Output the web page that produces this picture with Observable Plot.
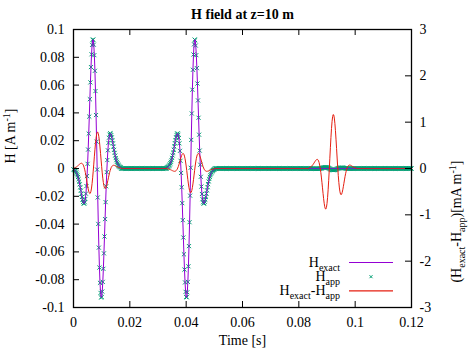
<!DOCTYPE html>
<html>
<head>
<meta charset="utf-8">
<script src="https://cdn.jsdelivr.net/npm/d3@7"></script>
<script src="https://cdn.jsdelivr.net/npm/@observablehq/plot@0.6"></script>
<style>
  html, body { margin: 0; padding: 0; background: #fff; }
  #chart svg { display: block; font-family: 'Liberation Serif', 'Times New Roman', serif; }
  #chart svg text { font-family: 'Liberation Serif', 'Times New Roman', serif; }
</style>
</head>
<body>
<div id="chart"></div>
<script>
// Sampling of the time series [s]
const dt = 0.0002;
const tEnd = 0.12;

// H field pulses [A/m], one value every dt, starting at the given time
const hPulse1Start = 0;
const hPulse1 = [-0.00061,-0.00086,-0.00117,-0.0016,-0.00214,-0.00283,-0.00372,-0.00478,-0.00606,-0.00758,-0.00934,-0.01131,-0.01348,-0.01578,-0.01812,-0.02039,-0.02244,-0.02406,-0.02506,-0.02521,-0.02426,-0.022,-0.01824,-0.01285,-0.00576,0.00297,0.01319,0.02462,0.03683,0.04931,0.06142,0.07247,0.08176,0.08861,0.0924,0.09269,0.08918,0.08179,0.07068,0.05625,0.03911,0.02005,0,-0.02005,-0.03911,-0.05625,-0.07068,-0.08179,-0.08918,-0.09269,-0.0924,-0.08861,-0.08176,-0.07247,-0.06142,-0.04931,-0.03683,-0.02462,-0.01319,-0.00297,0.00576,0.01285,0.01824,0.022,0.02426,0.02521,0.02506,0.02406,0.02244,0.02039,0.01812,0.01578,0.01348,0.01131,0.00934,0.00758,0.00606,0.00478,0.00372,0.00283,0.00214,0.0016,0.00117,0.00086,0.00061];
const hPulse2Start = 0.0332;
const hPulse2 = [0.00061,0.00086,0.00117,0.0016,0.00214,0.00283,0.00372,0.00478,0.00606,0.00758,0.00934,0.01131,0.01348,0.01578,0.01812,0.02039,0.02244,0.02406,0.02506,0.02521,0.02426,0.022,0.01824,0.01285,0.00576,-0.00297,-0.01319,-0.02462,-0.03683,-0.04931,-0.06142,-0.07247,-0.08176,-0.08861,-0.0924,-0.09269,-0.08918,-0.08179,-0.07068,-0.05625,-0.03911,-0.02005,0,0.02005,0.03911,0.05625,0.07068,0.08179,0.08918,0.09269,0.0924,0.08861,0.08176,0.07247,0.06142,0.04931,0.03683,0.02462,0.01319,0.00297,-0.00576,-0.01285,-0.01824,-0.022,-0.02426,-0.02521,-0.02506,-0.02406,-0.02244,-0.02039,-0.01812,-0.01578,-0.01348,-0.01131,-0.00934,-0.00758,-0.00606,-0.00478,-0.00372,-0.00283,-0.00214,-0.0016,-0.00117,-0.00086,-0.00061];

// Difference H_exact - H_app [mA/m], same sampling
const errPulse1Start = 0;
const errPulse1 = [0.00882,0.01187,0.01573,0.02061,0.02648,0.03352,0.04216,0.05151,0.06193,0.07303,0.08431,0.09496,0.10418,0.11077,0.11344,0.11074,0.1012,0.08339,0.05618,0.0188,-0.02891,-0.0864,-0.15223,-0.22396,-0.29827,-0.37089,-0.4369,-0.49096,-0.52781,-0.54253,-0.53117,-0.49115,-0.42166,-0.32393,-0.20136,-0.0594,0.09467,0.25222,0.40391,0.54036,0.65297,0.73455,0.78,0.78667,0.75463,0.68658,0.58763,0.46482,0.32647,0.18154,0.03884,-0.09361,-0.20914,-0.30277,-0.37153,-0.41437,-0.43207,-0.42698,-0.4026,-0.36317,-0.31325,-0.25736,-0.19965,-0.1436,-0.09197,-0.04672,-0.00896,0.02085,0.04288,0.05774,0.06634,0.06975,0.06914,0.06556,0.06003,0.05333,0.04617,0.03909,0.03248,0.02616,0.02092,0.01645,0.01267,0.00965,0.00722];
const errPulse2Start = 0.0332;
const errPulse2 = [-0.0054,-0.00724,-0.00956,-0.01247,-0.01595,-0.02008,-0.02512,-0.03049,-0.03638,-0.04253,-0.04858,-0.05402,-0.05833,-0.06075,-0.0605,-0.0567,-0.04849,-0.03508,-0.01589,0.00939,0.04068,0.0774,0.11842,0.16198,0.2058,0.24704,0.28252,0.30892,0.32304,0.32203,0.30379,0.26718,0.21229,0.14052,0.05469,-0.04111,-0.14173,-0.24131,-0.33369,-0.41291,-0.47371,-0.51195,-0.525,-0.51195,-0.47371,-0.41291,-0.33369,-0.24131,-0.14173,-0.04111,0.05469,0.14052,0.21229,0.26718,0.30379,0.32203,0.32304,0.30892,0.28252,0.24704,0.2058,0.16198,0.11842,0.0774,0.04068,0.00939,-0.01589,-0.03508,-0.04849,-0.0567,-0.0605,-0.06075,-0.05833,-0.05402,-0.04858,-0.04253,-0.03638,-0.03049,-0.02512,-0.02008,-0.01595,-0.01247,-0.00956,-0.00724,-0.0054];
const errPulse3Start = 0.0836;
const errPulse3 = [0.01378,0.0186,0.02473,0.03251,0.04193,0.05331,0.06735,0.08272,0.10002,0.11876,0.13818,0.15711,0.17432,0.18801,0.19617,0.19649,0.18657,0.16403,0.12682,0.07348,0.00328,-0.08337,-0.18474,-0.2976,-0.41728,-0.53757,-0.65112,-0.74976,-0.82514,-0.86928,-0.87531,-0.83828,-0.75574,-0.62817,-0.45931,-0.25619,-0.02868,0.21097,0.44907,0.67144,0.86461,1.01681,1.119,1.16557,1.15475,1.08874,0.97341,0.81769,0.63286,0.43141,0.22617,0.02915,-0.1492,-0.30068,-0.41971,-0.5035,-0.55192,-0.56714,-0.55324,-0.51553,-0.46002,-0.39292,-0.32008,-0.24659,-0.1767,-0.11352,-0.05908,-0.01447,0.02013,0.04521,0.06173,0.07097,0.07432,0.07319,0.0689,0.06252,0.05506,0.04726,0.03973,0.03231,0.02607,0.02065,0.01601,0.01226,0.00922];

// Axis ticks and texts
const xTicks = [0, 0.02, 0.04, 0.06, 0.08, 0.1, 0.12];
const yTicks = [-0.1, -0.08, -0.06, -0.04, -0.02, 0, 0.02, 0.04, 0.06, 0.08, 0.1];
const y2Ticks = [-3, -2, -1, 0, 1, 2, 3];
const titleText = "H field at z=10 m";
const xLabel = "Time [s]";
const yLabel = "H [A m^{-1}]";
const y2Label = "(H_{exact}-H_{app})[mA m^{-1}]";
const legendLabels = ["H_{exact}", "H_{app}", "H_{exact}-H_{app}"];

// mA/m on the right axis per A/m on the left axis (3 mA/m <-> 0.1 A/m)
const errPerY = 30;

// Assemble the sampled table
function valueAt(pulses, i) {
  for (const p of pulses) {
    const j = i - Math.round(p.start / dt);
    if (j >= 0 && j < p.values.length) return p.values[j];
  }
  return 0;
}
const hPulses = [{start: hPulse1Start, values: hPulse1}, {start: hPulse2Start, values: hPulse2}];
const errPulses = [
  {start: errPulse1Start, values: errPulse1},
  {start: errPulse2Start, values: errPulse2},
  {start: errPulse3Start, values: errPulse3}
];
const n = Math.round(tEnd / dt) + 1;
const samples = d3.range(n).map(i => {
  const hExact = valueAt(hPulses, i);
  const err = valueAt(errPulses, i);
  return {t: i * dt, hExact, err, hApp: hExact - err / 1000};
});

const W = 469, H = 352;
const mL = 73, mR = 58, mT = 29, mB = 45;
const frameW = W - mL - mR, frameH = H - mT - mB;
const tick = 6;
const font = "'Liberation Serif', 'Times New Roman', serif";
const colExact = "#9400d3", colApp = "#009e73", colErr = "#e51e10";

const chart = Plot.plot({
  width: W,
  height: H,
  marginLeft: mL, marginRight: mR, marginTop: mT, marginBottom: mB,
  style: {fontFamily: font, fontSize: "14px", background: "#fff", color: "#000"},
  x: {domain: [0, 0.12]},
  y: {domain: [-0.1, 0.1]},
  marks: [
    Plot.dot(samples, {x: "t", y: "hApp", symbol: "times", r: 2, stroke: colApp, strokeWidth: 1}),
    Plot.line(samples, {x: "t", y: "hExact", stroke: colExact, strokeWidth: 1}),
    Plot.line(samples, {x: "t", y: d => d.err / errPerY, stroke: colErr, strokeWidth: 1}),
    Plot.frame({stroke: "#000", strokeWidth: 1.3}),
    // inward tick marks
    Plot.ruleX(xTicks, {insetTop: frameH - tick, stroke: "#000"}),
    Plot.ruleX(xTicks, {insetBottom: frameH - tick, stroke: "#000"}),
    Plot.ruleY(yTicks, {insetRight: frameW - tick, stroke: "#000"}),
    Plot.ruleY(y2Ticks, {y: d => d / errPerY, insetLeft: frameW - tick, stroke: "#000"}),
    // tick labels
    Plot.axisX(xTicks, {tickSize: 0, tickPadding: 10, tickFormat: d => String(d), label: null, fontFamily: font, fontSize: 14}),
    Plot.axisY(yTicks, {tickSize: 0, tickPadding: 9, tickFormat: d => String(d), label: null, fontFamily: font, fontSize: 14}),
    Plot.text(y2Ticks, {y: d => d / errPerY, text: d => String(d), frameAnchor: "right", textAnchor: "start", dx: 8, fontFamily: font, fontSize: 14}),
    // titles
    Plot.text([titleText], {frameAnchor: "top", dy: -20, fontWeight: "bold", fontFamily: font, fontSize: 14}),
    Plot.text([xLabel], {frameAnchor: "bottom", dy: 37, fontFamily: font, fontSize: 14}),
    Plot.text([yLabel], {frameAnchor: "left", dx: -63, dy: -5, rotate: -90, fontFamily: font, fontSize: 14}),
    Plot.text([y2Label], {frameAnchor: "right", dx: 45, dy: -8, rotate: -90, fontFamily: font, fontSize: 14})
  ]
});

// Enhanced text: H_{sub} and m^{sup}
const subShift = 4, supShift = 5, smallSize = 10;
function richText(el, src) {
  const sel = d3.select(el);
  sel.text(null);
  const re = /([_^])\{([^}]*)\}|([^_^]+)/g;
  let m, shift = 0;
  while ((m = re.exec(src))) {
    const ts = sel.append("tspan");
    if (m[3] !== undefined) {
      ts.text(m[3]);
      if (shift) ts.attr("dy", -shift);
      shift = 0;
    } else {
      const s = m[1] === "_" ? subShift : -supShift;
      ts.text(m[2]).attr("font-size", smallSize).attr("dy", s - shift);
      shift = s;
    }
  }
}
const svg = d3.select(chart);
svg.selectAll("text").each(function() {
  const s = this.textContent;
  if (/[_^]\{/.test(s)) richText(this, s);
});

// Legend, bottom right inside the frame
const frameRight = W - mR, frameBottom = H - mB;
const legend = svg.append("g")
  .attr("font-family", font)
  .attr("font-size", 14);
legendLabels.forEach((label, i) => {
  const y = frameBottom - 44.5 + i * 14.2;
  const t = legend.append("text")
    .attr("x", frameRight - 71)
    .attr("y", y + 4)
    .attr("text-anchor", "end")
    .attr("fill", "#000");
  richText(t.node(), label);
  if (i === 1) {
    legend.append("path")
      .attr("transform", `translate(${frameRight - 40},${y})`)
      .attr("d", "M-1.5,-1.5L1.5,1.5M-1.5,1.5L1.5,-1.5")
      .attr("stroke", colApp).attr("fill", "none");
  } else {
    legend.append("line")
      .attr("x1", frameRight - 62).attr("x2", frameRight - 18)
      .attr("y1", y).attr("y2", y)
      .attr("stroke", i === 0 ? colExact : colErr)
      .attr("stroke-width", 1.2);
  }
});

document.getElementById("chart").append(chart);
</script>
</body>
</html>
